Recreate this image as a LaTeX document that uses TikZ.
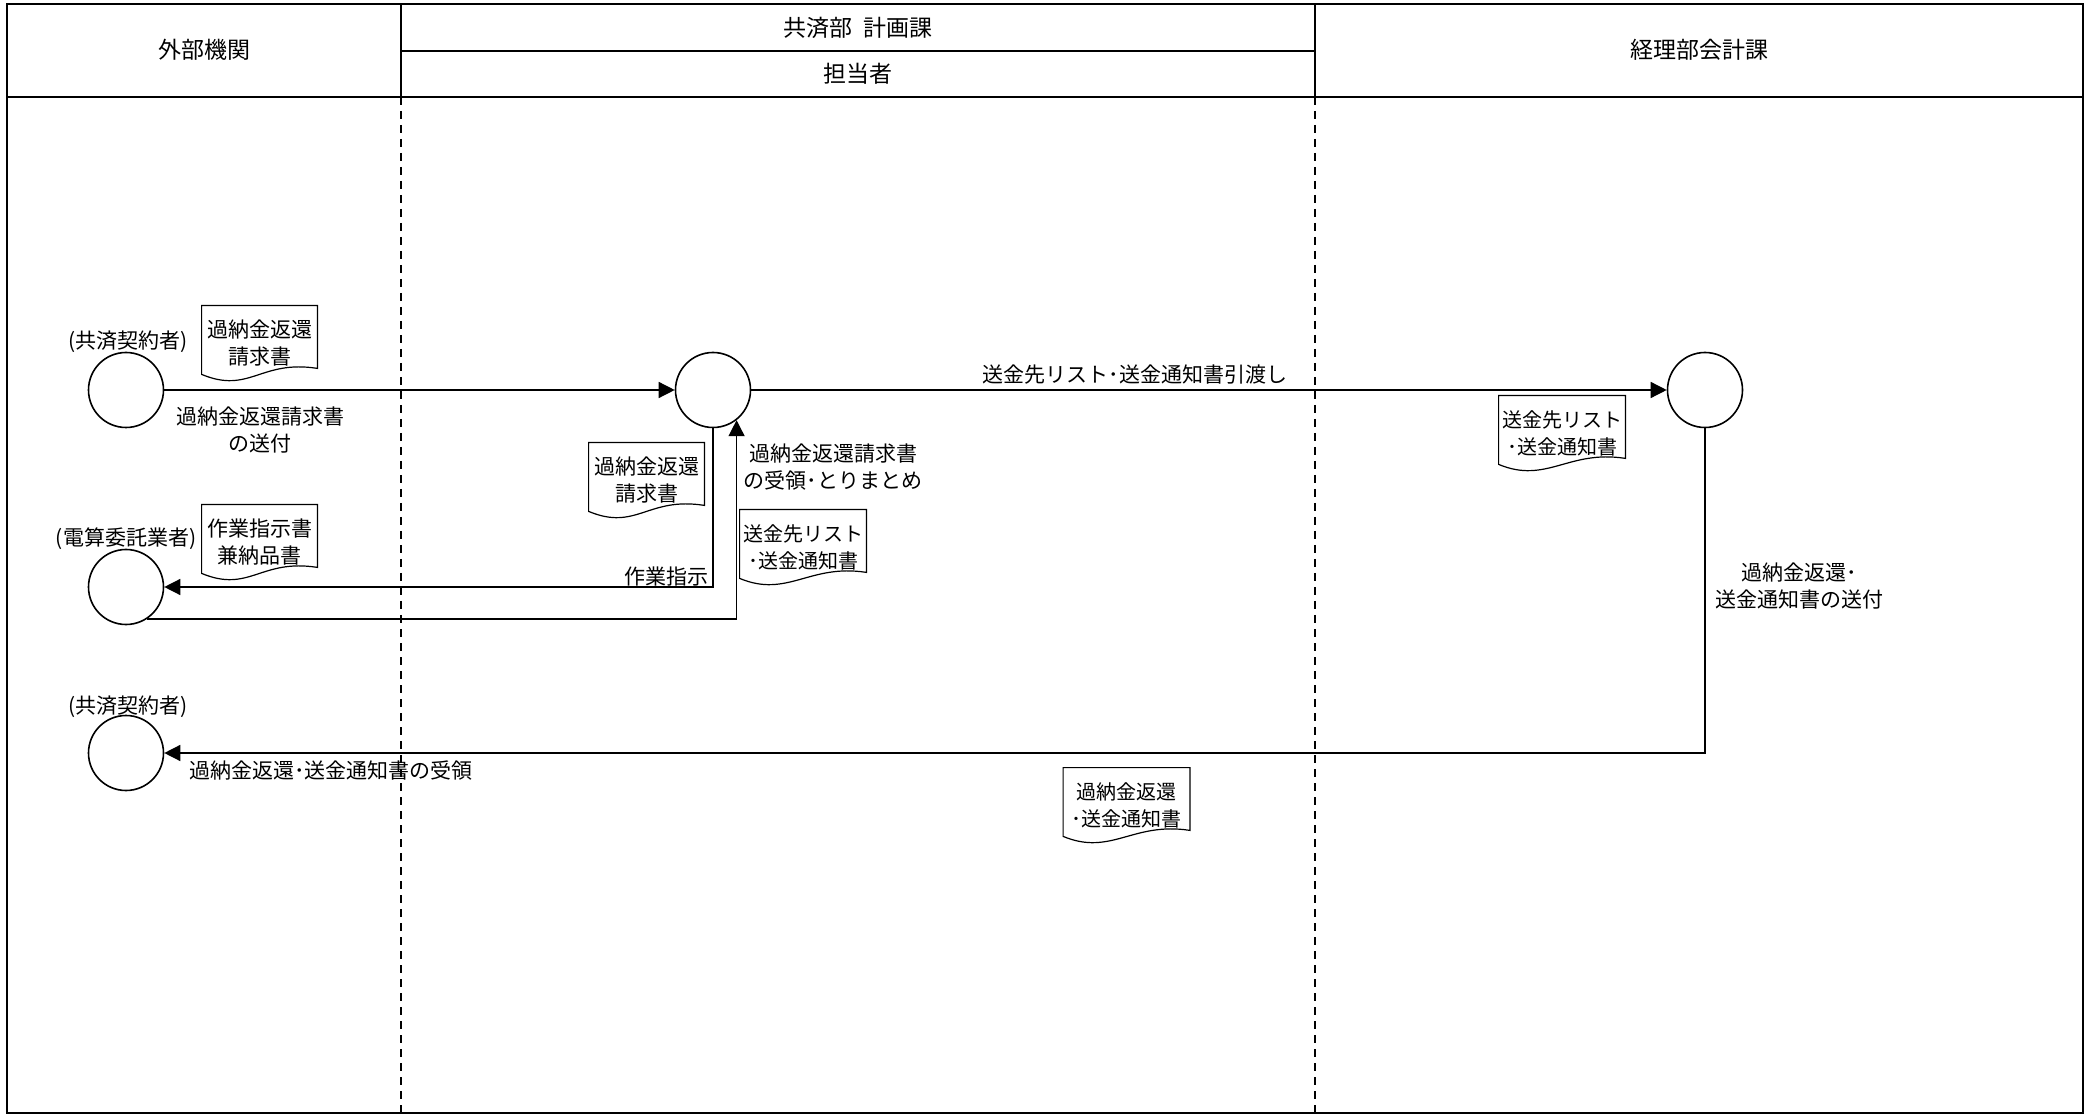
\documentclass[tikz,border=0pt]{standalone}
\usepackage{fontspec}
\setmainfont{Noto Sans CJK JP}
\usetikzlibrary{arrows.meta}

\tikzset{
  frame/.style={line width=1.3pt},
  lane/.style={line width=0.7pt},
  divider/.style={line width=0.6pt, dash pattern=on 4pt off 3pt},
  proc/.style={circle, draw, line width=0.8pt, minimum size=37.5pt, inner sep=0pt},
  flow/.style={line width=0.7pt, -{Triangle[length=8pt,width=8pt]}},
  docline/.style={line width=0.6pt},
  doc/.style={minimum height=31pt, inner sep=0pt, align=center,
    font=\fontsize{10.5pt}{13.5pt}\selectfont},
  widedoc/.style={doc, minimum width=63pt, font=\fontsize{10pt}{13.5pt}\selectfont},
  lbl/.style={align=center, inner sep=0pt, font=\fontsize{10.5pt}{13.5pt}\selectfont},
  head/.style={inner sep=0pt, font=\fontsize{11.5pt}{14pt}\selectfont},
}

\begin{document}
\begin{tikzpicture}[x=0.5pt, y=-0.5pt]
	\useasboundingbox (0,0) rectangle (2089,1117);

	% header and lanes
	\draw[frame] (7,4) rectangle (2083,1113);
	\draw[frame] (7,97) -- (2083,97);
	\draw[lane] (401,4) -- (401,97);
	\draw[lane] (1315,4) -- (1315,97);
	\draw[lane] (401,51) -- (1315,51);
	\foreach \x in {401,1315} {
			\draw[divider] (\x,97) -- (\x,1113);
		}

	\node[head] (h-ext) at (204,50) {外部機関};
	\node[head] (h-plan) at (858,28) {共済部\hspace{0.5em}計画課};
	\node[head] (h-staff) at (858,74) {担当者};
	\node[head] (h-acct) at (1699,50) {経理部会計課};

	% processes
	\node[proc] (c1) at (126,390) {};
	\node[proc] (c2) at (713,390) {};
	\node[proc] (c3) at (1705,390) {};
	\node[proc] (c4) at (126,587) {};
	\node[proc] (c5) at (126,753) {};

	\node[lbl] (who1) at (128,342) {(共済契約者)};
	\node[lbl] (who2) at (126,539) {(電算委託業者)};
	\node[lbl] (who3) at (128,707) {(共済契約者)};

	% documents
	\node[doc, minimum width=57.5pt] (d1) at (259.5,343) {過納金返還\\請求書};
	\node[doc, minimum width=57.5pt] (d2) at (646.5,480) {過納金返還\\請求書};
	\node[doc, minimum width=57.5pt] (d3) at (259.5,542) {作業指示書\\兼納品書};
	\node[widedoc] (d4) at (803,547) {送金先リスト\\･送金通知書};
	\node[widedoc] (d5) at (1562,433) {送金先リスト\\･送金通知書};
	\node[widedoc] (d6) at (1126.5,805) {過納金返還\\･送金通知書};
	\foreach \d in {d1,d2,d3,d4,d5,d6} {
			\draw[docline] ([yshift=3pt]\d.north west) -- ([yshift=3pt]\d.north east)
			-- ([yshift=3pt]\d.south east) .. controls +(-57,-9) and +(48,20) .. (\d.south west) -- cycle;
		}

	% flows
	\draw[flow] (c1) -- (c2);
	\draw[flow] (c2) -- (c3);
	\draw[flow] (c2.south) |- (c4.east);
	\draw[flow] (c4.-57) -| (c2.-52);
	\draw[flow] (c3.south) |- (c5.east);

	\node[lbl] (t-send) at (260,430) {過納金返還請求書\\の送付};
	\node[lbl] (t-hand) at (1135,375) {送金先リスト･送金通知書引渡し};
	\node[lbl] (t-recv) at (833,467) {過納金返還請求書\\の受領･とりまとめ};
	\node[lbl, anchor=east] (t-work) at (709,577) {作業指示};
	\node[lbl] (t-pay) at (1799,586) {過納金返還･\\送金通知書の送付};
	\node[lbl, anchor=west] (t-get) at (189,771) {過納金返還･送金通知書の受領};
\end{tikzpicture}
\end{document}
